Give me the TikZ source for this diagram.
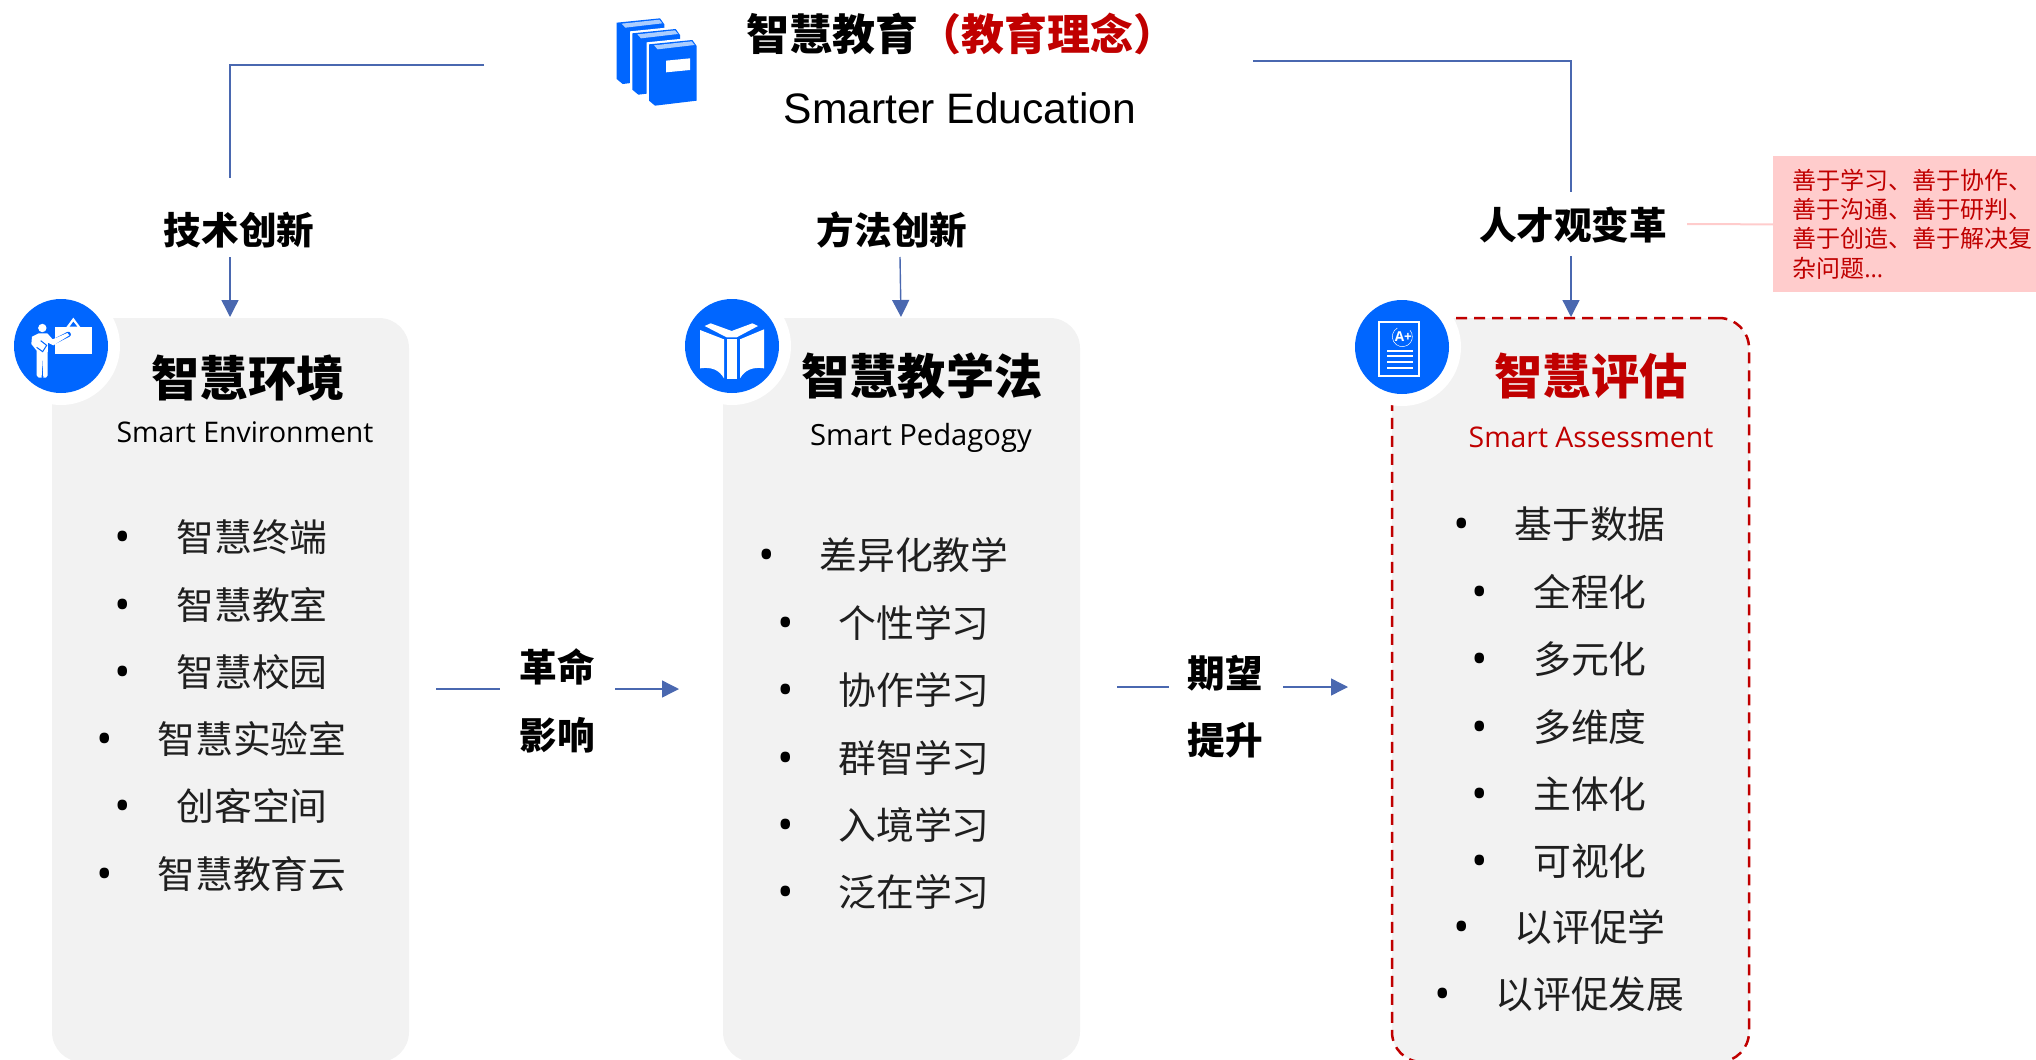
\documentclass[tikz,border=0pt]{standalone}
\usepackage{fontspec}
\setmainfont{Open Sans}
\newfontfamily\cjk{Noto Sans CJK SC}
\newfontfamily\arialf{Liberation Sans}
\usetikzlibrary{arrows.meta}
\definecolor{iconblue}{RGB}{0,102,255}
\definecolor{linkblue}{RGB}{74,104,176}
\definecolor{panelgray}{RGB}{242,242,242}
\definecolor{darkred}{RGB}{192,0,0}
\definecolor{notepink}{RGB}{255,204,204}
\definecolor{pagelight}{RGB}{170,205,255}
\newcommand{\fs}[1]{\fontsize{#1}{#1}\selectfont}
\tikzset{
  panel/.style={fill=panelgray,rounded corners=15pt,minimum width=178.5pt,minimum height=372pt,inner sep=0pt},
  halo/.style={circle,fill=white,minimum size=59pt,inner sep=0pt},
  badge/.style={circle,fill=iconblue,minimum size=47pt,inner sep=0pt},
  link/.style={linkblue,line width=.7pt},
  linkarr/.style={link,-{Triangle[width=8.5pt,length=8.5pt]}},
  sectitle/.style={font=\cjk\bfseries\fs{18.8},inner sep=0pt},
  ptitle/.style={font=\cjk\bfseries\fs{24.1},inner sep=0pt},
  psub/.style={font=\fs{14.2},inner sep=0pt},
  entry/.style={font=\cjk\fs{18.9},inner sep=0pt,text=black!88,xshift=.5pt,yshift=-.5pt},
  bul/.style={font=\fs{22},inner sep=0pt,yshift=-2.8pt},
  icon/.style={fill=white,draw=none},
}
\newcommand{\onebook}[2]{%
  \begin{scope}[shift={(#1,#2)}]
    \fill[white] (140,97)--(278,83)--(297,106)--(297,279)--(165,294)--(140,279)--cycle;
    \fill[iconblue] (147,103)--(277,90)--(290,108)--(290,272)--(165,287)--(147,272)--cycle;
    \fill[pagelight] (162,106)--(275,94)--(284,105)--(173,118)--cycle;
  \end{scope}}
\begin{document}
\begin{tikzpicture}[x=.5pt,y=-.5pt]
\useasboundingbox (0,0) rectangle (2036,1060);

% panels
\node[panel] (envPanel) at (230.5,690) {};
\node[panel] (pedPanel) at (901.5,690) {};
\node[panel,draw=darkred,line width=1.25pt,dash pattern=on 5.5pt off 3.5pt] (evalPanel) at (1570.5,690) {};

% halos and badges
\node[halo] (envHalo) at (61,346) {};
\node[halo] (pedHalo) at (732,346) {};
\node[halo] (evalHalo) at (1402,347) {};
\node[badge] (envBadge) at (61,346) {};
\node[badge] (pedBadge) at (732,346) {};
\node[badge] (evalBadge) at (1402,347) {};

% presenter icon
\begin{scope}[shift={(14,300)},x=.16667pt,y=-.16667pt]
  \fill[icon] (122,82) rectangle (233,162);
  \fill[icon] (155,84)--(178,53)--(201,84)--cycle;
  \fill[iconblue] (167,80)--(178,65)--(190,80)--cycle;
  \draw[iconblue,line width=2.6pt,line cap=round] (118,126)--(163,103);
  \fill[icon] (85,84) circle[radius=2.1pt];
  \fill[icon] (54,110)--(74,100)--(100,100)--(116,118)--(160,99)--(166,106)--(118,136)--(102,128)--(101,165)--(101,226)--(96,233)--(88,233)--(85,172)--(83,233)--(74,233)--(68,226)--(68,152)--(52,132)--cycle;
  \draw[iconblue,line width=.5pt] (80,122)--(98,136)--(86,155)--(68,142);
\end{scope}

% open book icon
\begin{scope}[shift={(684,300)},x=.16667pt,y=-.16667pt]
  \fill[icon] (48,90)--(120,118)--(120,235) .. controls (105,210) and (85,200) .. (48,205)--cycle;
  \fill[icon] (240,88)--(168,118)--(168,235) .. controls (183,210) and (205,200) .. (240,205)--cycle;
  \fill[icon] (128,118) rectangle (160,238);
  \fill[icon] (62,78)--(80,70)--(143,93)--(205,70)--(222,78)--(158,112)--(128,112)--cycle;
\end{scope}

% assessment sheet icon
\begin{scope}[shift={(1354,300)},x=.16667pt,y=-.16667pt]
  \draw[white,line width=1pt] (76,66) rectangle (195,229);
  \draw[white,line width=.25pt] (130,84) arc[start angle=120,end angle=400,radius=5pt];
  \node[font=\bfseries\fs{6.8},text=white,inner sep=0pt] (gradeMark) at (148,110) {A+};
  \foreach \yy in {153,169,186,203} \draw[white,line width=1pt] (99,\yy)--(177,\yy);
\end{scope}

% stacked books
\begin{scope}[shift={(600,10)},x=.16667pt,y=-.16667pt]
  \onebook{-97}{-65}
  \onebook{-50}{-33}
  \onebook{0}{0}
  \fill[white] (198,152)--(270,145)--(270,180)--(198,187)--cycle;
\end{scope}

% title
\node[anchor=west,font=\cjk\bfseries\fs{21.5},inner sep=0pt] (mainTitle) at (746,34) {智慧教育\textcolor{darkred}{（教育理念）}};
\node[font=\arialf\fs{21.3},inner sep=0pt] (mainSub) at (960,108) {Smarter Education};

% section labels
\node[sectitle] (techLabel) at (239,230) {技术创新};
\node[sectitle] (methLabel) at (892,230) {方法创新};
\node[sectitle] (talentLabel) at (1573,225) {人才观变革};
\node[sectitle,align=center] (revA) at (557,667) {革命};
\node[sectitle,align=center] (revB) at (557,735) {影响};
\node[sectitle,align=center] (expA) at (1225,673) {期望};
\node[sectitle,align=center] (expB) at (1225,740) {提升};

% panel titles
\node[ptitle] (envTitle) at (248,378) {智慧环境};
\node[psub] (envSub) at (245,432) {Smart Environment};
\node[ptitle] (pedTitle) at (922,376) {智慧教学法};
\node[psub,font=\fs{14.6}] (pedSub) at (921,438) {Smart Pedagogy};
\node[ptitle,text=darkred] (evalTitle) at (1591,376) {智慧评估};
\node[psub,text=darkred] (evalSub) at (1591,437) {Smart Assessment};

% panel entries
\foreach \yy/\bx/\tx [count=\n] in {536/123/智慧终端,604/123/智慧教室,671/123/智慧校园,738/105/智慧实验室,805/123/创客空间,873/105/智慧教育云}{
  \node[bul] (envDot\n) at (\bx,\yy) {•};
  \node[entry] (envItem\n) at (251,\yy) {\tx};
}
\foreach \yy/\bx/\tx [count=\n] in {554/767/差异化教学,622/786/个性学习,689/786/协作学习,757/786/群智学习,824/786/入境学习,891/786/泛在学习}{
  \node[bul] (pedDot\n) at (\bx,\yy) {•};
  \node[entry] (pedItem\n) at (913,\yy) {\tx};
}
\foreach \yy/\bx/\tx [count=\n] in {523/1462/基于数据,591/1480/全程化,658/1480/多元化,726/1480/多维度,793/1480/主体化,860/1480/可视化,926/1462/以评促学,993/1443/以评促发展}{
  \node[bul] (evalDot\n) at (\bx,\yy) {•};
  \node[entry] (evalItem\n) at (1589,\yy) {\tx};
}

% note
\node[fill=notepink,anchor=north west,minimum width=131.5pt,minimum height=68pt,inner sep=0pt] (noteBox) at (1773,156) {};
\node[anchor=west,align=left,text=darkred,font=\cjk\fontsize{12}{14.6}\selectfont,inner sep=0pt] (noteText) at (1792,224) {善于学习、善于协作、\\善于沟通、善于研判、\\善于创造、善于解决复\\杂问题{\rmfamily …}};

% connector ends
\coordinate (tl0) at (484,65); \coordinate (tl1) at (230,65); \coordinate (tl2) at (230,178);
\coordinate (tr0) at (1253,61); \coordinate (tr1) at (1571,61); \coordinate (tr2) at (1571,192);
\coordinate (a1s) at (230,257); \coordinate (a1e) at (230,317);
\coordinate (a2s) at (900,257); \coordinate (a2e) at (901,317);
\coordinate (a3s) at (1571,256); \coordinate (a3e) at (1571,317);
\coordinate (h1a) at (436,689); \coordinate (h1b) at (500,689);
\coordinate (h1c) at (615,689); \coordinate (h1d) at (679,689);
\coordinate (h2a) at (1117,687); \coordinate (h2b) at (1169,687);
\coordinate (h2c) at (1283,687); \coordinate (h2d) at (1348,687);
\coordinate (noteEnd) at (1687,224);

\draw[link] (tl0)--(tl1)--(tl2);
\draw[link] (tr0)--(tr1)--(tr2);
\draw[linkarr] (a1s)--(a1e);
\draw[linkarr] (a2s)--(a2e);
\draw[linkarr] (a3s)--(a3e);
\draw[link] (h1a)--(h1b);
\draw[linkarr] (h1c)--(h1d);
\draw[link] (h2a)--(h2b);
\draw[linkarr] (h2c)--(h2d);
\draw[notepink,line width=1pt] (noteEnd)--(noteBox.west);
\end{tikzpicture}
\end{document}
